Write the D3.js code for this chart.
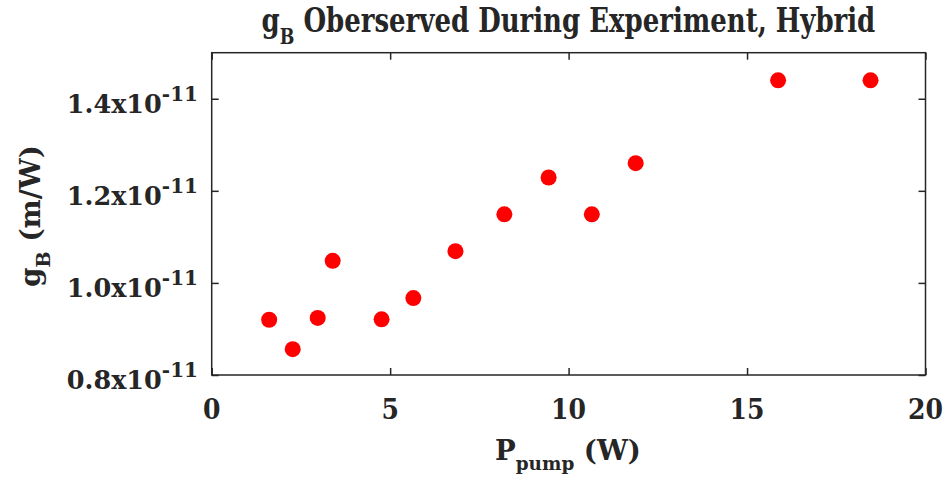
<!DOCTYPE html>
<html>
<head>
<meta charset="utf-8">
<script src="https://cdn.jsdelivr.net/npm/d3@7/dist/d3.min.js"></script>
<style>
  html, body { margin: 0; padding: 0; background: #fff; }
  svg { display: block; }
  text { font-family: "DejaVu Serif", serif; font-weight: bold; fill: #262626; }
</style>
</head>
<body>
<svg id="chart" width="945" height="483"></svg>
<script>
// Data (gB in units of 1e-11 m/W)
const pumpPower = [1.61, 2.27, 2.97, 3.39, 4.76, 5.65, 6.83, 8.20, 9.44, 10.65, 11.88, 15.87, 18.46];
const gainValues = [0.920, 0.856, 0.924, 1.048, 0.921, 0.967, 1.069, 1.149, 1.229, 1.149, 1.260, 1.440, 1.440];
const xTicks = [0, 5, 10, 15, 20];
const yTicks = [0.8, 1.0, 1.2, 1.4];
const yTickLabels = ["0.8x10", "1.0x10", "1.2x10", "1.4x10"];
const yTickExponent = "-11";
const titleMain = " Oberserved During Experiment, Hybrid";

const svg = d3.select("#chart");
const L = 211.7, R = 925.5, T = 52.7, B = 375;
const axisColor = "#262626";

const x = d3.scaleLinear().domain([0, 20]).range([L, R]);
const y = d3.scaleLinear().domain([0.8, 1.5]).range([B, T]);

function styleAxis(g) {
  g.select(".domain").remove();
  g.selectAll(".tick line").attr("stroke", axisColor).attr("stroke-width", 1.5);
}

// bottom axis
const gx = svg.append("g").attr("transform", `translate(0,${B})`)
  .call(d3.axisBottom(x).tickValues(xTicks).tickSizeInner(-7).tickSizeOuter(0).tickFormat(""));
styleAxis(gx);
xTicks.forEach((v) => {
  svg.append("text").attr("x", x(v)).attr("y", 419)
    .attr("text-anchor", "middle").attr("font-size", 27)
    .attr("transform", `translate(${x(v)},0) scale(0.93,1) translate(${-x(v)},0)`)
    .text(d3.format("d")(v));
});

// top axis (ticks only)
const gt = svg.append("g").attr("transform", `translate(0,${T})`)
  .call(d3.axisTop(x).tickValues(xTicks).tickSizeInner(-7).tickSizeOuter(0).tickFormat(""));
styleAxis(gt);

// left axis
const gy = svg.append("g").attr("transform", `translate(${L},0)`)
  .call(d3.axisLeft(y).tickValues(yTicks).tickSizeInner(-7).tickSizeOuter(0).tickFormat(""));
styleAxis(gy);

// right axis
const gr = svg.append("g").attr("transform", `translate(${R},0)`)
  .call(d3.axisRight(y).tickValues(yTicks).tickSizeInner(-7).tickSizeOuter(0).tickFormat(""));
styleAxis(gr);

// y tick labels with superscript
yTicks.forEach((v, i) => {
  const t = svg.append("text")
    .attr("x", 198).attr("y", y(v) + 14)
    .attr("text-anchor", "end").attr("font-size", 25.5);
  t.append("tspan").text(yTickLabels[i]);
  t.append("tspan").attr("font-size", 20).attr("dy", -12).text(yTickExponent);
});

// box
svg.append("rect").attr("x", L).attr("y", T).attr("width", R - L).attr("height", B - T)
  .attr("fill", "none").attr("stroke", axisColor).attr("stroke-width", 1.5);

// points
svg.append("g").selectAll("circle").data(pumpPower).join("circle")
  .attr("cx", (d) => x(d))
  .attr("cy", (d, i) => y(gainValues[i]))
  .attr("r", 8)
  .attr("fill", "#ff0000");

// title
const title = svg.append("text").attr("x", 0).attr("y", 32).attr("font-size", 33);
title.append("tspan").text("g");
title.append("tspan").attr("font-size", 22).attr("dy", 12).text("B");
title.append("tspan").attr("dy", -12).text(titleMain);
const tw = title.node().getComputedTextLength();
const targetW = 614;
const sx = targetW / tw;
title.attr("transform", `translate(${(L + R) / 2 - targetW / 2},0) scale(${sx},1)`);

// x label
const xl = svg.append("text").attr("x", 0).attr("y", 460).attr("font-size", 27);
xl.append("tspan").text("P");
xl.append("tspan").attr("font-size", 18).attr("dy", 10).text("pump");
xl.append("tspan").attr("dy", -10).text(" (W)");
const xw = xl.node().getComputedTextLength();
const xTarget = 146;
xl.attr("transform", `translate(495,0) scale(${xTarget / xw},1)`);

// y label
const yl = svg.append("text").attr("x", 0).attr("y", 0).attr("font-size", 27);
yl.append("tspan").text("g");
yl.append("tspan").attr("font-size", 19).attr("dy", 10).text("B");
yl.append("tspan").attr("dy", -10).text(" (m/W)");
const yw = yl.node().getComputedTextLength();
const yTarget = 142;
yl.attr("transform", `translate(40,287) rotate(-90) scale(${yTarget / yw},1)`);
</script>
</body>
</html>
